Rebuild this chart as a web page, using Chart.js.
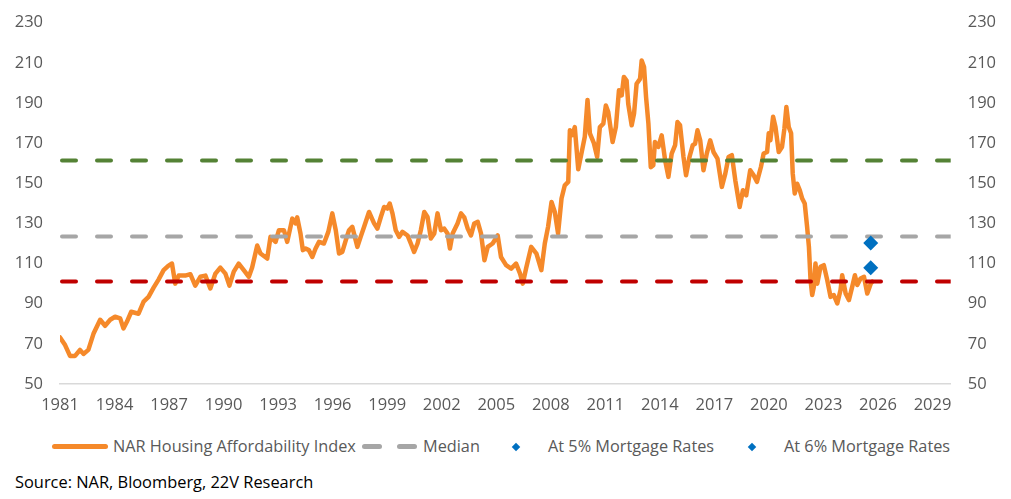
<!DOCTYPE html>
<html>
<head>
<meta charset="utf-8">
<script src="https://cdn.jsdelivr.net/npm/chart.js@4.4.1/dist/chart.umd.min.js"></script>
<style>
  body { margin: 0; background: #fff; font-family: "Open Sans", sans-serif; }
  #wrap { position: relative; width: 1011px; height: 499px; overflow: hidden; }
  #box { position: absolute; left: 0; top: 0; width: 1011px; height: 425px; }
  .lg { position: absolute; top: 436px; height: 21px; line-height: 21px; font-size: 16.3px; color: #595959; white-space: nowrap; }
  .sw { position: absolute; height: 5px; border-radius: 2.5px; top: 444px; }
  .dm { position: absolute; width: 6px; height: 6px; background: #0070C0; top: 443.5px; transform: rotate(45deg); }
  #src { position: absolute; left: 15px; top: 471px; font-size: 16.4px; line-height: 22px; color: #000; white-space: nowrap; }
</style>
</head>
<body>
<div id="wrap">
  <div id="box"><canvas id="chart"></canvas></div>
  <div class="sw" style="left:52px;width:56px;background:#F5892A"></div>
  <div class="lg" style="left:113px">NAR Housing Affordability Index</div>
  <div class="sw" style="left:362px;width:20px;background:#A6A6A6"></div>
  <div class="sw" style="left:397px;width:20px;background:#A6A6A6"></div>
  <div class="lg" style="left:423px">Median</div>
  <div class="dm" style="left:513px"></div>
  <div class="lg" style="left:548px">At 5% Mortgage Rates</div>
  <div class="dm" style="left:749px"></div>
  <div class="lg" style="left:784px">At 6% Mortgage Rates</div>
  <div id="src">Source: NAR, Bloomberg, 22V Research</div>
</div>
<script>
// NAR Housing Affordability Index
const hYears = [
  1981.0, 1981.28, 1981.55, 1981.83, 1982.1, 1982.29, 1982.56, 1982.84, 1983.21, 1983.48,
  1983.76, 1984.03, 1984.31, 1984.49, 1984.68, 1984.92, 1985.32, 1985.6, 1985.87, 1986.15,
  1986.42, 1986.7, 1986.97, 1987.16, 1987.34, 1987.53, 1987.89, 1988.17, 1988.44, 1988.72,
  1989.0, 1989.27, 1989.55, 1989.82, 1990.1, 1990.32, 1990.56, 1990.83, 1991.11, 1991.39,
  1991.57, 1991.85, 1992.03, 1992.4, 1992.58, 1992.86, 1993.04, 1993.32, 1993.5, 1993.78,
  1993.96, 1994.05, 1994.23, 1994.36, 1994.51, 1994.69, 1994.88, 1995.06, 1995.25, 1995.52,
  1995.76, 1995.98, 1996.17, 1996.35, 1996.53, 1996.72, 1996.9, 1997.08, 1997.36, 1997.54,
  1997.73, 1998.0, 1998.28, 1998.46, 1998.65, 1998.83, 1999.01, 1999.14, 1999.29, 1999.47,
  1999.66, 1999.84, 2000.12, 2000.3, 2000.48, 2000.67, 2000.85, 2001.04, 2001.22, 2001.4,
  2001.59, 2001.77, 2001.96, 2002.14, 2002.32, 2002.45, 2002.6, 2002.87, 2003.06, 2003.24,
  2003.43, 2003.61, 2003.79, 2003.98, 2004.16, 2004.35, 2004.53, 2004.8, 2005.08, 2005.26,
  2005.54, 2005.82, 2006.09, 2006.31, 2006.46, 2006.64, 2006.92, 2007.21, 2007.48, 2007.67,
  2007.85, 2008.04, 2008.22, 2008.4, 2008.59, 2008.77, 2008.96, 2009.05, 2009.19, 2009.32,
  2009.51, 2009.69, 2009.87, 2010.02, 2010.15, 2010.37, 2010.55, 2010.7, 2010.89, 2011.03,
  2011.16, 2011.4, 2011.58, 2011.75, 2011.9, 2012.02, 2012.17, 2012.26, 2012.45, 2012.58,
  2012.72, 2012.91, 2013.0, 2013.13, 2013.24, 2013.37, 2013.5, 2013.64, 2013.73, 2013.92,
  2014.1, 2014.29, 2014.47, 2014.65, 2014.84, 2014.97, 2015.11, 2015.3, 2015.44, 2015.63,
  2015.81, 2015.94, 2016.07, 2016.22, 2016.4, 2016.58, 2016.77, 2016.95, 2017.17, 2017.41,
  2017.6, 2017.78, 2017.96, 2018.15, 2018.39, 2018.57, 2018.75, 2018.97, 2019.16, 2019.34,
  2019.56, 2019.71, 2019.9, 2019.99, 2020.08, 2020.23, 2020.36, 2020.54, 2020.72, 2020.85,
  2020.96, 2021.09, 2021.22, 2021.31, 2021.42, 2021.55, 2021.7, 2021.83, 2021.97, 2022.1,
  2022.2, 2022.29, 2022.38, 2022.47, 2022.56, 2022.66, 2022.84, 2023.02, 2023.21, 2023.39,
  2023.57, 2023.76, 2023.94, 2024.03, 2024.22, 2024.4, 2024.58, 2024.73, 2024.86, 2025.04,
  2025.23, 2025.41, 2025.6, 2025.69
];
const hIndex = [
  73.2, 69.4, 64, 64, 67, 65, 67, 75, 82, 79,
  82, 83.5, 82.7, 77.7, 81, 86, 85, 91, 93.4, 98,
  102, 106.7, 109, 110, 100, 104, 104, 104.7, 99, 103.4,
  104, 97.6, 105, 108, 105, 99, 106, 110, 106.7, 103.4,
  108, 119, 115, 112.5, 123.3, 120.8, 126.6, 126.6, 120.8, 132.4,
  130, 133, 125, 116.7, 117.5, 116.7, 113.3, 117.5, 120.8, 120,
  125.8, 135, 126.6, 115, 115.8, 121.6, 126.6, 128.3, 118.3, 123.3,
  128.3, 135.7, 130, 127.4, 133.2, 138.2, 137.4, 139.9, 135, 126.6,
  123.3, 125.8, 124, 120, 115.8, 120, 126.6, 135.7, 133.2, 122.5,
  125, 135, 126.6, 127.4, 125, 117.5, 125, 130, 135, 133,
  127.4, 124, 130, 130.8, 125, 111.7, 118.3, 120, 124, 113.3,
  109.2, 107.5, 110, 105, 100, 107.5, 118.3, 115, 106.7, 120,
  128.3, 140.7, 135.7, 125, 142.4, 149, 150.7, 176.4, 174, 178,
  157, 165, 173.2, 191.5, 174.9, 170, 163.1, 178, 179.7, 188.8,
  185.5, 170.6, 178, 196.3, 193.8, 203, 201.2, 189.6, 178.9, 184.7,
  199.6, 202, 211.2, 207.9, 193, 179.7, 158, 159, 170.6, 168.1,
  173.9, 161.4, 153.2, 164.8, 169, 180.5, 178.9, 163.1, 154, 163.1,
  169, 169.7, 176.4, 171.4, 156.5, 164.8, 171.4, 165.6, 162.3, 148.2,
  154.8, 163.1, 164, 151.5, 138.2, 146.5, 144, 156.5, 154, 150.7,
  158.1, 164.8, 165.6, 174.9, 171.4, 183.1, 178, 165.6, 168.1, 177.2,
  188, 178, 174.9, 154.8, 144.9, 149.8, 146.5, 142.4, 139.9, 128.3,
  118.3, 101.7, 94.3, 98.4, 110, 100, 108.4, 109.2, 101.7, 93.4,
  94.3, 90.1, 96.8, 104.2, 95.1, 91.8, 98.4, 104.2, 99.3, 102.6,
  103.4, 95.1, 100, 101
];

// Niveaux horizontaux
const medianLevel = 123.5;
const upperLevel = 161.3;
const lowerLevel = 101.1;

// Scénarios taux hypothécaires
const scenarioYear = 2025.6;
const at5Pct = 120.2;
const at6Pct = 107.9;

// Axes
const xMin = 1981, xMax = 2030;
const xTicks = [1981, 1984, 1987, 1990, 1993, 1996, 1999, 2002, 2005, 2008, 2011, 2014, 2017, 2020, 2023, 2026, 2029];
const yMin = 50, yMax = 230, yStep = 20;

const tickFont = { family: 'Open Sans', size: 16.5 };
const tickColor = '#595959';

function hLine(level) {
    return [{ x: xMin, y: level }, { x: xMax, y: level }];
}

function dashed(label, level, color) {
    return {
        label: label,
        data: hLine(level),
        borderColor: color,
        borderWidth: 4,
        borderDash: [14, 21],
        borderDashOffset: -2,
        borderCapStyle: 'round',
        pointRadius: 0,
        fill: false,
        order: 2
    };
}

// largeur fixe + pas de marge auto en haut/bas (sinon padding des ticks ajouté)
function fixY(width) {
    return (scale) => {
        scale.width = width;
        scale.paddingTop = 0;
        scale.paddingBottom = 0;
    };
}

const ctx = document.getElementById('chart');
new Chart(ctx, {
    type: 'line',
    data: {
        datasets: [
            {
                label: 'NAR Housing Affordability Index',
                data: hYears.map((x, i) => ({ x: x, y: hIndex[i] })),
                borderColor: '#F5892A',
                borderWidth: 4.5,
                borderJoinStyle: 'round',
                borderCapStyle: 'round',
                pointRadius: 0,
                tension: 0,
                fill: false,
                order: 5
            },
            dashed('Median', medianLevel, '#A6A6A6'),
            dashed('Upper', upperLevel, '#548235'),
            dashed('Lower', lowerLevel, '#C00000'),
            {
                type: 'scatter',
                label: 'At 5% Mortgage Rates',
                data: [{ x: scenarioYear, y: at5Pct }],
                pointStyle: 'rectRot',
                pointRadius: 7.5,
                backgroundColor: '#0070C0',
                borderColor: '#0070C0',
                borderWidth: 0,
                order: 0
            },
            {
                type: 'scatter',
                label: 'At 6% Mortgage Rates',
                data: [{ x: scenarioYear, y: at6Pct }],
                pointStyle: 'rectRot',
                pointRadius: 7.5,
                backgroundColor: '#0070C0',
                borderColor: '#0070C0',
                borderWidth: 0,
                order: 0
            }
        ]
    },
    options: {
        responsive: true,
        maintainAspectRatio: false,
        animation: false,
        layout: { padding: { top: 22.7, bottom: 0, left: 0, right: 0 } },
        plugins: {
            legend: { display: false },
            tooltip: { enabled: false }
        },
        scales: {
            x: {
                type: 'linear',
                min: xMin,
                max: xMax,
                afterBuildTicks: (scale) => { scale.ticks = xTicks.map(v => ({ value: v })); },
                afterFit: (scale) => { scale.height = 41; },
                grid: { display: false, drawTicks: false },
                border: { display: true, color: '#D9D9D9', width: 1.5 },
                ticks: {
                    font: tickFont,
                    color: tickColor,
                    padding: 11,
                    maxRotation: 0,
                    autoSkip: false,
                    callback: (v) => String(v)
                }
            },
            y: {
                position: 'left',
                min: yMin,
                max: yMax,
                afterFit: fixY(60),
                grid: { display: false, drawTicks: false },
                border: { display: false },
                ticks: { stepSize: yStep, font: tickFont, color: tickColor, padding: 17 }
            },
            y2: {
                position: 'right',
                min: yMin,
                max: yMax,
                afterFit: fixY(60.3),
                grid: { display: false, drawTicks: false },
                border: { display: false },
                ticks: { stepSize: yStep, font: tickFont, color: tickColor, padding: 17 }
            }
        }
    }
});
</script>
</body>
</html>
